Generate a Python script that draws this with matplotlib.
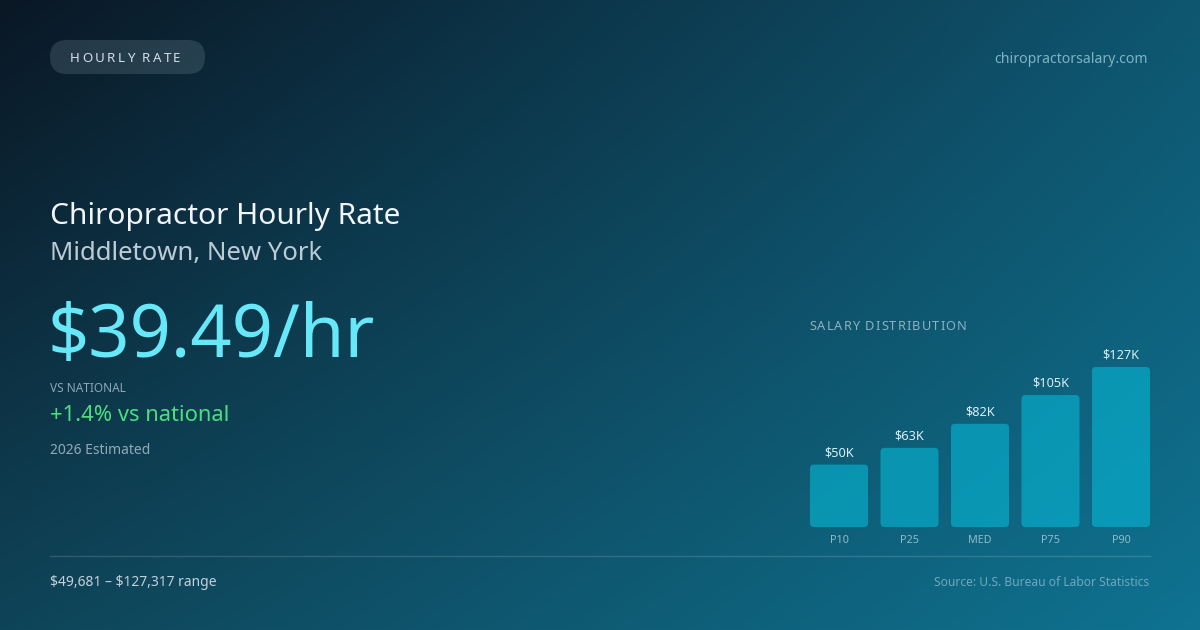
import numpy as np
import matplotlib
matplotlib.use("Agg")
import matplotlib.pyplot as plt
from matplotlib.patches import FancyBboxPatch

# ---------------- data ----------------
categories = ["P10", "P25", "MED", "P75", "P90"]
salaries = [49681, 63000, 82139, 105000, 127317]
value_labels = ["$50K", "$63K", "$82K", "$105K", "$127K"]

badge_text = "HOURLY RATE"
site_text = "chiropractorsalary.com"
title_text = "Chiropractor Hourly Rate"
location_text = "Middletown, New York"
rate_text = "$39.49/hr"
vs_label = "VS NATIONAL"
vs_text = "+1.4% vs national"
estimate_text = "2026 Estimated"
dist_label = "SALARY DISTRIBUTION"
range_text = "\\$49,681 \u2013 \\$127,317 range"
source_text = "Source: U.S. Bureau of Labor Statistics"

FONT = ["Noto Sans", "DejaVu Sans"]
plt.rcParams["font.family"] = FONT

W, H = 1200, 630
fig = plt.figure(figsize=(12, 6.3), dpi=100)

# ---------------- background ----------------
bg = fig.add_axes([0, 0, 1, 1])
bg.set_xlim(0, W)
bg.set_ylim(H, 0)
bg.axis("off")

def hex2rgb(h):
    h = h.lstrip("#")
    return np.array([int(h[i:i + 2], 16) for i in (0, 2, 4)]) / 255.0

tl, tr, bl, br = (hex2rgb(c) for c in ("#0a1725", "#0f5670", "#0f4458", "#0f7391"))
u = np.linspace(0, 1, W)[None, :, None]
v = np.linspace(0, 1, H)[:, None, None]
img = (1 - u) * (1 - v) * tl + u * (1 - v) * tr + (1 - u) * v * bl + u * v * br
bg.imshow(img, extent=(0, W, H, 0), aspect="auto", zorder=0, interpolation="bilinear")

renderer = fig.canvas.get_renderer()

def text_width(s, size, **kw):
    t = bg.text(0, 0, s, fontsize=size, **kw)
    w = t.get_window_extent(renderer=renderer).width
    t.remove()
    return w

def spaced_text(x, y, s, size, spacing, **kw):
    dot = text_width(".", size, **kw)
    for i, ch in enumerate(s):
        if ch == " ":
            continue
        off = (text_width(s[:i] + ".", size, **kw) - dot) if i > 0 else 0
        bg.text(x + off + i * spacing, y, ch, fontsize=size, **kw)

# badge
pill = FancyBboxPatch((50, 40), 155, 34, boxstyle="round,pad=0,rounding_size=17",
                      facecolor="#cfe6f0", alpha=0.14, edgecolor="none", zorder=2)
bg.add_patch(pill)
spaced_text(70, 62, badge_text, 9.6, 2.3, color="#d3dee6", va="baseline", zorder=3)

bg.text(1148, 63, site_text, fontsize=10.1, color="#7fb3c6", ha="right", va="baseline")

# left block
bg.text(50, 224, title_text, fontsize=21.5, color="#f1f5f9", va="baseline")
bg.text(50, 260, location_text, fontsize=18.5, color="#bccbd5", va="baseline")
bg.text(47, 357, rate_text, fontsize=52, color="#67e8f9", va="baseline")
bg.text(50, 392, vs_label, fontsize=8.5, color="#8ea6b6", va="baseline")
bg.text(50, 421, vs_text, fontsize=15.8, color="#4ade80", va="baseline")
bg.text(50, 454, estimate_text, fontsize=10, color="#93a9b8", va="baseline")

spaced_text(809, 330, dist_label, 9.2, 1.1, color="#8db2c2", va="baseline")

# divider + footer
bg.plot([50, 1150], [556, 556], color="#ffffff", alpha=0.14, lw=1.0, zorder=2)
bg.text(50, 586, range_text, fontsize=10, color="#c3d1da", va="baseline")
bg.text(1149, 586, source_text, fontsize=8.7, color="#6ea8bf", ha="right", va="baseline")

# ---------------- bars ----------------
x0, x1, ybot, hpx = 810, 1150, 527, 160
ax = fig.add_axes([x0 / W, (H - ybot) / H, (x1 - x0) / W, hpx / H])
ax.patch.set_alpha(0)
ax.axis("off")
n = len(categories)
bw = 0.823
xs = np.arange(n)
ymax = max(salaries)
ax.set_xlim(-bw / 2, n - 1 + bw / 2)
ax.set_ylim(0, ymax)

xu_per_px = (n - 1 + bw) / (x1 - x0)
yu_per_px = ymax / hpx
bars = ax.bar(xs, salaries, width=bw)
for b in bars:
    b.remove()
for b, lab, cat, xv in zip(bars, value_labels, categories, xs):
    p = FancyBboxPatch((b.get_x(), 0), b.get_width(), b.get_height(),
                       boxstyle=f"round,pad=0,rounding_size={4 * xu_per_px}",
                       mutation_aspect=yu_per_px / xu_per_px,
                       facecolor="#06b6d4", alpha=0.62, edgecolor="none", clip_on=False)
    ax.add_patch(p)
    ax.annotate(lab, (xv, b.get_height()), xytext=(0, 5.8), textcoords="offset points",
                ha="center", va="baseline", fontsize=9.2, color="#dbeef5",
                annotation_clip=False)
    ax.annotate(cat, (xv, 0), xytext=(0, -11.6), textcoords="offset points",
                ha="center", va="baseline", fontsize=7.8, color="#8dbccd",
                annotation_clip=False)

fig.savefig("out.png", dpi=100)
